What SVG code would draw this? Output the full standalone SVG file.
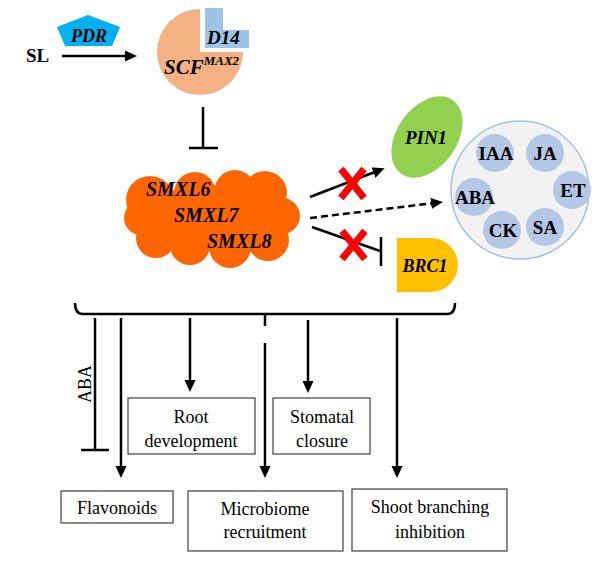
<svg xmlns="http://www.w3.org/2000/svg" width="600" height="562" viewBox="0 0 600 562">
<defs>
<style>
text{font-family:'Liberation Serif','Tinos','Times New Roman','DejaVu Serif',serif;fill:#000}
.bi{font-weight:bold;font-style:italic}
.b{font-weight:bold}
.ln{stroke:#000;stroke-width:2.5;fill:none}
.box{fill:#fff;stroke:#404040;stroke-width:1.2}
.x{stroke:#ff0000;stroke-width:7;stroke-linecap:butt}
.h{fill:#b4c7e7}
</style>
<marker id="ah" markerUnits="userSpaceOnUse" markerWidth="13" markerHeight="12" refX="7" refY="6" orient="auto">
<path d="M0,0.5 L12,6 L0,11.5 z" fill="#000"/>
</marker>
</defs>
<rect width="600" height="562" fill="#fff"/>

<g id="sl"><text class="b" x="26" y="62" font-size="19">SL</text></g>
<g id="pdr">
<polygon points="88,15 120,27 112,46 65,46 57,27" fill="#00b0f0"/>
<text class="bi" x="89" y="42" font-size="18" text-anchor="middle">PDR</text>
</g>
<g id="scf">
<path d="M200,52 L200,9 A43,43 0 1 0 243,52 Z" fill="#f4b183"/>
<path d="M205,8 L223,8 L223,30 L249,30 L249,48 L205,48 Z" fill="#9dc3e6"/>
<text class="bi" x="207" y="44" font-size="19">D14</text>
<text class="bi" x="164" y="74" font-size="21">SCF<tspan font-size="13" dy="-9">MAX2</tspan></text>
</g>

<g id="smxl">
<g fill="#ff6600">
<circle cx="150" cy="200" r="24"/>
<circle cx="195" cy="193" r="21"/>
<circle cx="235" cy="190" r="20"/>
<circle cx="265" cy="193" r="22"/>
<circle cx="282" cy="216" r="18"/>
<circle cx="268" cy="240" r="21"/>
<circle cx="230" cy="247" r="21"/>
<circle cx="190" cy="245" r="20"/>
<circle cx="156" cy="238" r="20"/>
<circle cx="141" cy="218" r="17"/>
<ellipse cx="212" cy="218" rx="72" ry="33"/>
</g>
<text class="bi" x="146" y="196" font-size="20">SMXL6</text>
<text class="bi" x="174" y="222" font-size="20">SMXL7</text>
<text class="bi" x="207" y="248" font-size="20">SMXL8</text>
</g>

<g id="pin1">
<ellipse cx="427" cy="137" rx="45" ry="30" transform="rotate(-55 427 137)" fill="#92d050"/>
<text class="bi" x="426" y="144" font-size="19" text-anchor="middle">PIN1</text>
</g>
<g id="brc1">
<path d="M397,238 L431,238 A27,27 0 0 1 431,292 L397,292 Z" fill="#ffc000"/>
<text class="bi" x="425" y="272" font-size="18" text-anchor="middle">BRC1</text>
</g>
<g id="hormones">
<circle cx="520" cy="190" r="69" fill="#f2f2f2" stroke="#9dc3e6" stroke-width="1.5"/>
<circle class="h" cx="495" cy="153" r="19"/>
<circle class="h" cx="545" cy="153" r="19"/>
<circle class="h" cx="572" cy="190" r="19"/>
<circle class="h" cx="545" cy="227" r="19"/>
<circle class="h" cx="502" cy="230" r="19"/>
<circle class="h" cx="474" cy="197" r="19"/>
<text class="b" font-size="19" text-anchor="middle" x="496" y="160">IAA</text>
<text class="b" font-size="19" text-anchor="middle" x="545" y="160">JA</text>
<text class="b" font-size="19" text-anchor="middle" x="573" y="197">ET</text>
<text class="b" font-size="19" text-anchor="middle" x="545" y="234">SA</text>
<text class="b" font-size="19" text-anchor="middle" x="503" y="237">CK</text>
<text class="b" font-size="19" text-anchor="middle" x="475" y="204">ABA</text>
</g>

<g id="root"><rect class="box" x="128" y="398" width="127" height="56"/>
<text font-size="18" text-anchor="middle"><tspan x="191" y="423">Root</tspan><tspan x="191" y="447">development</tspan></text></g>
<g id="stomatal"><rect class="box" x="273" y="398" width="97" height="56"/>
<text font-size="18" text-anchor="middle"><tspan x="322" y="423">Stomatal</tspan><tspan x="322" y="447">closure</tspan></text></g>
<g id="flavonoids"><rect class="box" x="61" y="491" width="112" height="32"/>
<text font-size="18" text-anchor="middle" x="117" y="514">Flavonoids</text></g>
<g id="microbiome"><rect class="box" x="188" y="491" width="155" height="60"/>
<text font-size="18" text-anchor="middle"><tspan x="265" y="515">Microbiome</tspan><tspan x="265" y="538">recruitment</tspan></text></g>
<g id="shoot"><rect class="box" x="352" y="489" width="155" height="62"/>
<text font-size="18" text-anchor="middle"><tspan x="430" y="513">Shoot branching</tspan><tspan x="430" y="538">inhibition</tspan></text></g>

<g id="connectors">
<line class="ln" x1="62" y1="56" x2="132" y2="56" marker-end="url(#ah)"/>
<line class="ln" x1="203" y1="107" x2="203" y2="148"/>
<line class="ln" x1="189" y1="148" x2="218" y2="148"/>
<line class="ln" x1="310" y1="197" x2="380" y2="170" marker-end="url(#ah)"/>
<line class="ln" x1="310" y1="218" x2="438" y2="202.6" stroke-dasharray="7,4" marker-end="url(#ah)"/>
<line class="ln" x1="312" y1="227" x2="380" y2="251"/>
<line class="ln" x1="381" y1="237" x2="381" y2="266"/>
<path class="ln" d="M75,303 Q75,314 83,314 L447,314 Q455,314 455,303"/>
<line class="ln" x1="265" y1="313" x2="265" y2="326" stroke-width="3"/>
<line class="ln" x1="95" y1="318" x2="95" y2="450"/>
<line class="ln" x1="81" y1="450" x2="109" y2="450"/>
<line class="ln" x1="121" y1="318" x2="121" y2="473" marker-end="url(#ah)"/>
<line class="ln" x1="190" y1="318" x2="190" y2="387" marker-end="url(#ah)"/>
<line class="ln" x1="265" y1="343" x2="265" y2="473" marker-end="url(#ah)"/>
<line class="ln" x1="308" y1="320" x2="308" y2="388" marker-end="url(#ah)"/>
<line class="ln" x1="397" y1="318" x2="397" y2="473" marker-end="url(#ah)"/>
<text font-size="18" text-anchor="middle" transform="translate(91 384) rotate(-90)">ABA</text>
<line class="x" x1="341" y1="169" x2="364" y2="198"/>
<line class="x" x1="364" y1="169" x2="341" y2="198"/>
<line class="x" x1="342" y1="231" x2="365" y2="259"/>
<line class="x" x1="365" y1="231" x2="342" y2="259"/>
</g>
</svg>
